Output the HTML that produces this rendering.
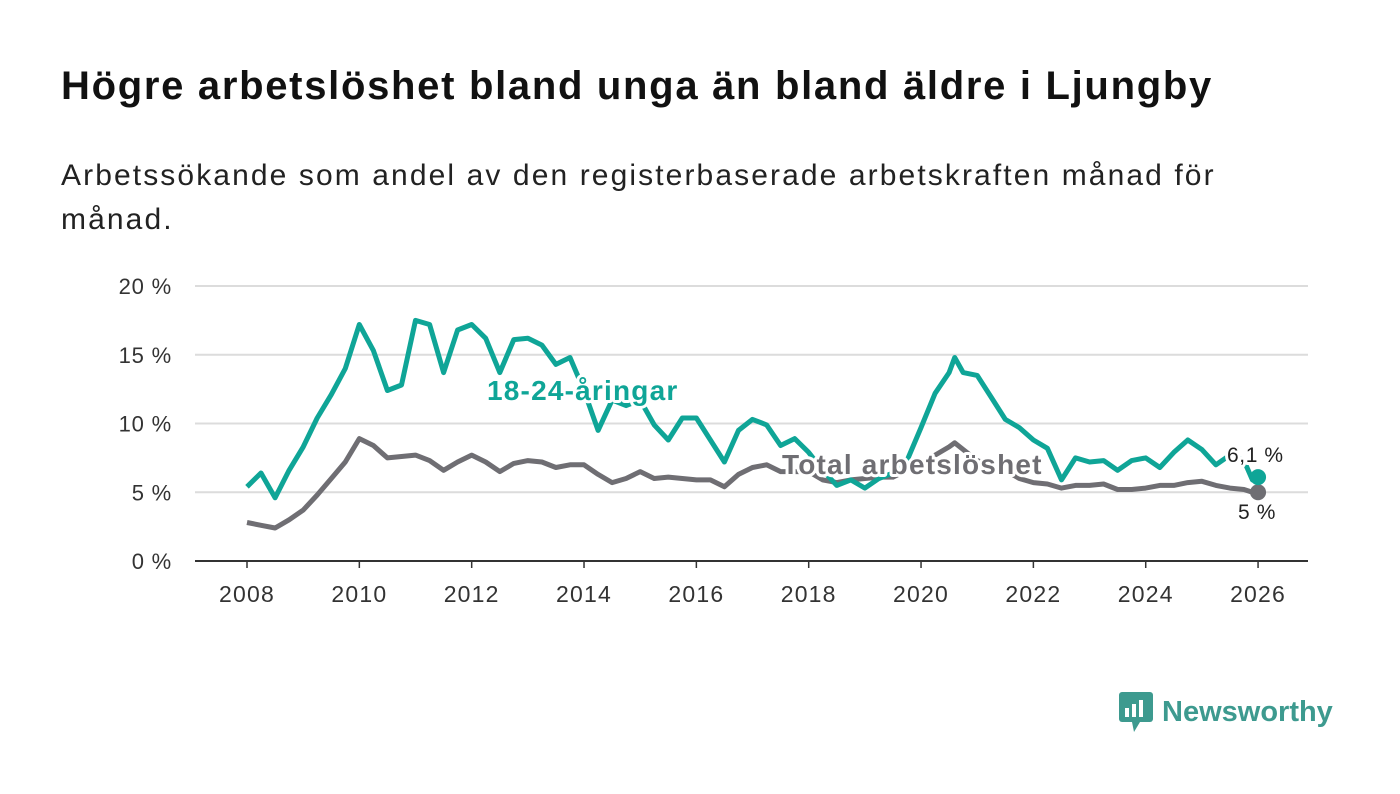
<!DOCTYPE html>
<html><head><meta charset="utf-8"><style>
body{margin:0;width:1400px;height:794px;background:#fff;font-family:"Liberation Sans",sans-serif;overflow:hidden;position:relative}
h1{position:absolute;left:61px;top:64px;margin:0;font-size:40px;font-weight:bold;color:#111;letter-spacing:1.7px;white-space:nowrap}
p.sub{position:absolute;left:61px;top:154px;margin:0;font-size:30px;line-height:44px;color:#222;width:1200px;letter-spacing:2.1px}
svg{position:absolute;left:0;top:0}
</style></head><body>
<h1>Högre arbetslöshet bland unga än bland äldre i Ljungby</h1>
<p class="sub">Arbetssökande som andel av den registerbaserade arbetskraften månad för månad.</p>
<svg id="chart" width="1400" height="794"></svg>
<div style="position:absolute;left:1118px;top:690px;display:flex;align-items:center">
<svg width="36" height="44" style="position:static"><rect x="1" y="2" width="34" height="30" rx="3" fill="#3d9a8f"/><polygon points="14,32 22,32 16,42" fill="#3d9a8f"/><rect x="7" y="18" width="4" height="9" fill="#fff"/><rect x="14" y="14" width="4" height="13" fill="#fff"/><rect x="21" y="10" width="4" height="17" fill="#fff"/></svg>
<span style="font-size:29px;font-weight:bold;color:#3d9a8f;margin-left:8px">Newsworthy</span></div>
<script>
const years=[2008,2008.25,2008.5,2008.75,2009,2009.25,2009.5,2009.75,2010,2010.25,2010.5,2010.75,2011,2011.25,2011.5,2011.75,2012,2012.25,2012.5,2012.75,2013,2013.25,2013.5,2013.75,2014,2014.25,2014.5,2014.75,2015,2015.25,2015.5,2015.75,2016,2016.25,2016.5,2016.75,2017,2017.25,2017.5,2017.75,2018,2018.25,2018.5,2018.75,2019,2019.25,2019.5,2019.75,2020,2020.25,2020.5,2020.6,2020.75,2021,2021.25,2021.5,2021.75,2022,2022.25,2022.5,2022.75,2023,2023.25,2023.5,2023.75,2024,2024.25,2024.5,2024.75,2025,2025.25,2025.5,2025.75,2025.9,2026.0];
const young=[5.4,6.4,4.6,6.6,8.3,10.4,12.1,14,17.2,15.3,12.4,12.8,17.5,17.2,13.7,16.8,17.2,16.2,13.7,16.1,16.2,15.7,14.3,14.8,12.4,9.5,11.7,11.3,11.7,9.9,8.8,10.4,10.4,8.8,7.2,9.5,10.3,9.9,8.4,8.9,7.9,6.6,5.5,5.9,5.3,6.0,6.4,7.3,9.7,12.2,13.7,14.8,13.7,13.5,11.9,10.3,9.7,8.8,8.2,5.9,7.5,7.2,7.3,6.6,7.3,7.5,6.8,7.9,8.8,8.1,7.0,7.7,7.3,5.9,6.1];
const total=[2.8,2.6,2.4,3.0,3.7,4.8,6.0,7.2,8.9,8.4,7.5,7.6,7.7,7.3,6.6,7.2,7.7,7.2,6.5,7.1,7.3,7.2,6.8,7.0,7.0,6.3,5.7,6.0,6.5,6.0,6.1,6.0,5.9,5.9,5.4,6.3,6.8,7.0,6.5,6.5,6.5,5.9,5.7,5.9,6.0,6.1,6.1,6.6,7.0,7.7,8.3,8.6,8.1,7.3,7.0,6.6,6.0,5.7,5.6,5.3,5.5,5.5,5.6,5.2,5.2,5.3,5.5,5.5,5.7,5.8,5.5,5.3,5.2,5.0,5.0];
const yTicks=[0,5,10,15,20];
const xTicks=[2008,2010,2012,2014,2016,2018,2020,2022,2024,2026];
const NS="http://www.w3.org/2000/svg",svg=document.getElementById('chart');
const X=v=>247+(v-2008)*56.17, Y=v=>561-v*13.75;
function mk(t,a,txt){const e=document.createElementNS(NS,t);for(const k in a)e.setAttribute(k,a[k]);if(txt!=null)e.textContent=txt;svg.appendChild(e);return e;}
yTicks.forEach(t=>{
 const l=mk('line',{x1:195,x2:1308,y1:Y(t),y2:Y(t),stroke:t?'#dcdcdc':'#333','stroke-width':2});
 
 
 const tx=mk('text',{x:172,y:Y(t)+8,'text-anchor':'end','font-size':22,'letter-spacing':0.8,fill:'#333'},t+' %');
 
 
});
xTicks.forEach(t=>{
 const l=mk('line',{x1:X(t),x2:X(t),y1:561,y2:568,stroke:'#333','stroke-width':1.5});
 
 
 const tx=mk('text',{x:X(t),y:602,'text-anchor':'middle','font-size':23,'letter-spacing':1.2,fill:'#333'},t);
 
 
});
function line(d,c,name){
 const p=mk('path',{d:d.map((v,i)=>(i?'L':'M')+X(years[i]).toFixed(1)+','+Y(v).toFixed(1)).join(''),fill:'none',stroke:c,'stroke-width':5,'stroke-linejoin':'round'});
 
 
 const n=d.length-1;
 const c2=mk('circle',{cx:X(years[n]),cy:Y(d[n]),r:8,fill:c});
 
 
}
line(total,'#6f6e73','total-line');
line(young,'#0fa597','young-line');
function lab(x,y,txt,c,sz,w,ls,name){
 const t=mk('text',{x:x,y:y,'font-size':sz,'font-weight':w,'letter-spacing':ls,fill:c,stroke:'#fff','stroke-width':6,'paint-order':'stroke','stroke-linejoin':'round'},txt);
 
 
}
lab(487,400,'18-24-åringar','#0fa597',28,'bold',1.2,'young-series-label');
lab(782,474,'Total arbetslöshet','#6f6e73',28,'bold',1.2,'total-series-label');
lab(1227,462,'6,1 %','#222',21,'normal',0.6,'young-end-value');
lab(1238,519,'5 %','#222',21,'normal',0.6,'total-end-value');
</script>
</body></html>
